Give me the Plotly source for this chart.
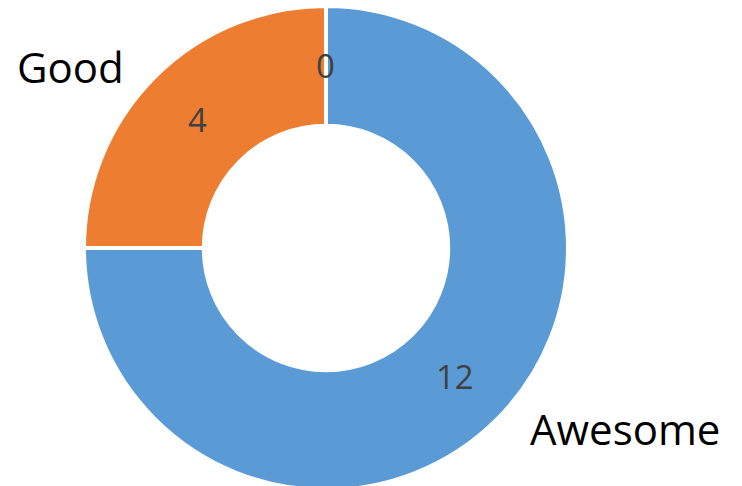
import math
import plotly.graph_objects as go

# Data
labels = ["Awesome", "Good", "Bad"]
values = [12, 4, 0]
colors = ["#5B9BD5", "#ED7D31", "#A5A5A5"]

W, H = 742, 494          # figure slightly taller than the 486 window: ring is cut at the bottom
cx_px, cy_px, r_out = 326, 248, 242
hole = 0.505

fig = go.Figure(go.Pie(
    labels=labels, values=values, sort=False, direction="clockwise", rotation=0,
    hole=hole, textinfo="none", hoverinfo="label+value",
    marker=dict(colors=colors, line=dict(color="white", width=4)),
    domain=dict(x=[(cx_px - r_out) / W, (cx_px + r_out) / W],
                y=[1 - (cy_px + r_out) / H, 1 - (cy_px - r_out) / H]),
))

# value labels at the middle of each ring segment
total = sum(values)
r_mid = r_out * (1 + hole) / 2
acc = 0
annotations = []
for lab, v in zip(labels, values):
    mid = (acc + v / 2) / total * 2 * math.pi
    acc += v
    px = cx_px + r_mid * math.sin(mid)
    py = cy_px - r_mid * math.cos(mid)
    annotations.append(dict(x=px / W, y=1 - py / H, xref="paper", yref="paper",
                            xanchor="center", yanchor="middle",
                            text=str(v), showarrow=False,
                            font=dict(family="Open Sans", size=33, color="#404040")))

# category labels outside
annotations.append(dict(x=70 / W, y=1 - 66 / H, xref="paper", yref="paper", text="Good",
                        xanchor="center", yanchor="middle",
                        showarrow=False, font=dict(family="Open Sans", size=42, color="#000000")))
annotations.append(dict(x=625 / W, y=1 - 428 / H, xref="paper", yref="paper", text="Awesome",
                        xanchor="center", yanchor="middle",
                        showarrow=False, font=dict(family="Open Sans", size=42, color="#000000")))

fig.update_layout(width=W, height=H, margin=dict(l=0, r=0, t=0, b=0),
                  showlegend=False, paper_bgcolor="white", annotations=annotations)
fig.write_html("out.html", config={"displayModeBar": False},
               post_script="document.body.style.margin='0';document.body.style.overflow='hidden';")
